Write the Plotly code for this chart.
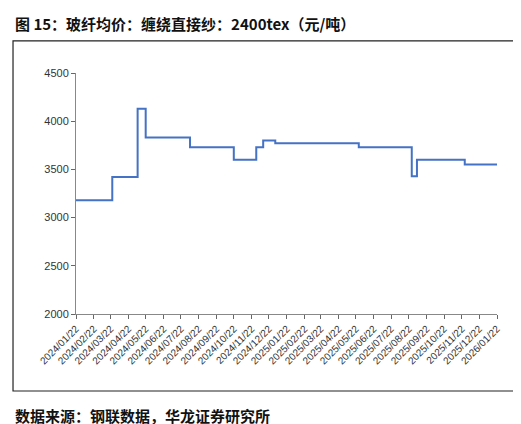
import plotly.graph_objects as go

# step changes: date where the new price starts
dates = ['2024-01-22', '2024-03-25', '2024-05-08', '2024-05-22', '2024-08-07',
         '2024-10-22', '2024-11-30', '2024-12-12', '2025-01-02', '2025-05-27',
         '2025-08-27', '2025-09-05', '2025-11-27', '2026-01-22']
prices = [3180, 3420, 4130, 3830, 3730, 3600, 3730, 3800, 3770, 3730,
          3430, 3600, 3550, 3550]

tick_dates = ['%d-%02d-22' % (2024 + (m // 12), m % 12 + 1) for m in range(25)]
tick_text = [d.replace('-', '/') for d in tick_dates]

fig = go.Figure()
fig.add_trace(go.Scatter(x=dates, y=prices, mode='lines', line_shape='hv',
                         line=dict(color='#4472C4', width=2)))

fig.update_layout(
    width=521, height=424, margin=dict(l=68, r=32, t=65, b=118, autoexpand=False),
    paper_bgcolor='white', plot_bgcolor='white', showlegend=False,
    font=dict(family='Liberation Sans, Arial', size=11, color='#333'),
)
fig.update_xaxes(range=['2024-01-22', '2026-01-22'], tickvals=tick_dates, ticktext=tick_text,
                 tickangle=-45, ticks='outside', ticklen=4, tickcolor='#666', automargin=False,
                 showline=True, linecolor='#888', showgrid=False, zeroline=False,
                 tickfont=dict(size=10))
fig.update_yaxes(range=[2000, 4500], dtick=500, ticks='outside', ticklen=4, tickcolor='#666',
                 automargin=False,
                 showline=True, linecolor='#888', showgrid=False, zeroline=False)

# frame around the chart
fig.add_shape(type='rect', xref='paper', yref='paper', x0=-0.1496, x1=1.064,
              y0=-0.3195, y1=1.133, line=dict(color='#222', width=1.2))

fig.add_annotation(xref='paper', yref='paper', x=-0.15, y=1.207, xanchor='left', yanchor='middle',
                   showarrow=False, text='<b>图 15：玻纤均价：缠绕直接纱：2400tex（元/吨）</b>',
                   font=dict(family='Noto Sans CJK SC', size=15, color='#111'))
fig.add_annotation(xref='paper', yref='paper', x=-0.15, y=-0.423, xanchor='left', yanchor='middle',
                   showarrow=False, text='<b>数据来源：钢联数据，华龙证券研究所</b>',
                   font=dict(family='Noto Sans CJK SC', size=15, color='#111'))

fig.write_html('out.html')
